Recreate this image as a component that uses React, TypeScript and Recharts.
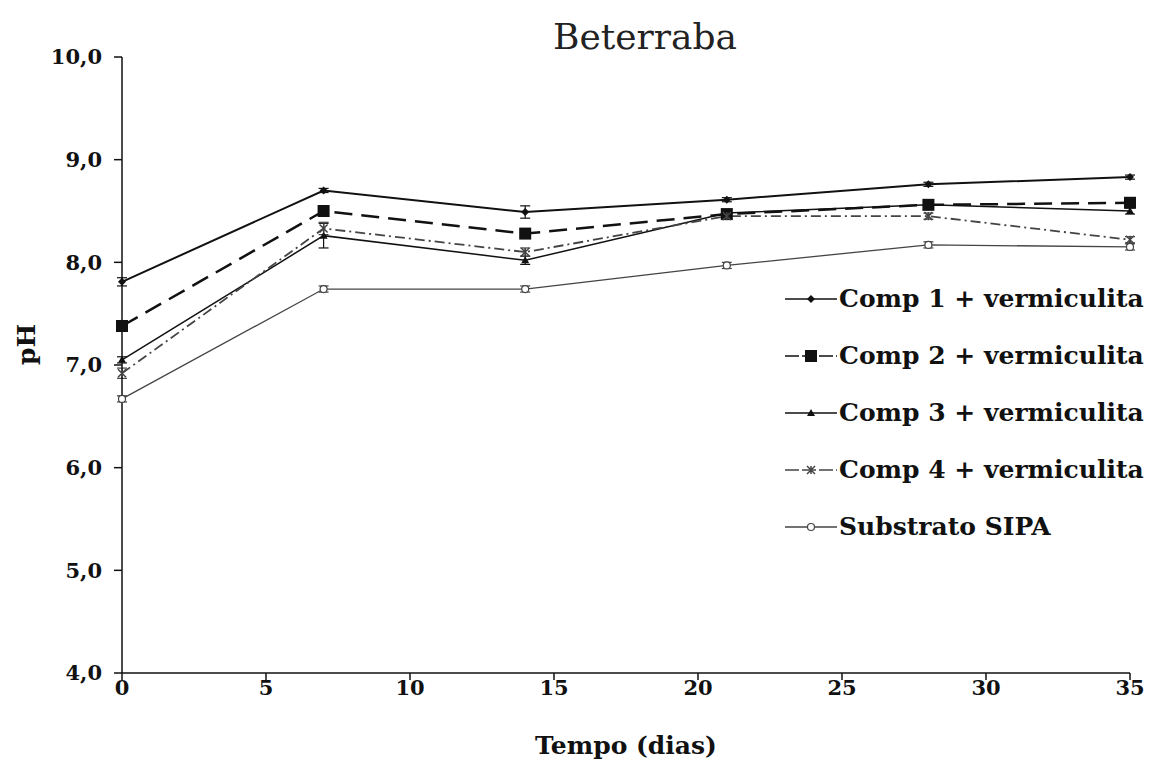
import { ErrorBar, Line, LineChart, XAxis, YAxis } from "recharts";

const days = [0, 7, 14, 21, 28, 35];
const comp1 = [7.81, 8.7, 8.49, 8.61, 8.76, 8.83];
const comp2 = [7.38, 8.5, 8.28, 8.47, 8.56, 8.58];
const comp3 = [7.05, 8.26, 8.02, 8.48, 8.56, 8.5];
const comp4 = [6.92, 8.33, 8.1, 8.45, 8.45, 8.22];
const sipa = [6.67, 7.74, 7.74, 7.97, 8.17, 8.15];
const comp1Err = [0.04, 0.02, 0.06, 0.02, 0.02, 0.02];
const comp3Err = [0.03, 0.12, 0.04, 0.03, 0.03, 0.03];
const comp4Err = [0.05, 0.06, 0.04, 0.03, 0.03, 0.03];
const sipaErr = [0.03, 0.03, 0.03, 0.03, 0.03, 0.03];
const xTicks = [0, 5, 10, 15, 20, 25, 30, 35];
const yTicks = [4, 5, 6, 7, 8, 9, 10];

const rows = days.map((d, i) => ({
  day: d,
  c1: comp1[i],
  c2: comp2[i],
  c3: comp3[i],
  c4: comp4[i],
  sipa: sipa[i],
  c1e: comp1Err[i],
  c3e: comp3Err[i],
  c4e: comp4Err[i],
  se: sipaErr[i],
}));

const serif = "'DejaVu Serif', serif";

type Shape = "diamond" | "square" | "triangle" | "x" | "circle";

function marker(shape: Shape, cx: number, cy: number, color: string) {
  switch (shape) {
    case "diamond":
      return <path d={`M${cx},${cy - 4}L${cx + 4},${cy}L${cx},${cy + 4}L${cx - 4},${cy}Z`} fill={color} />;
    case "square":
      return <rect x={cx - 6} y={cy - 6} width={12} height={12} fill={color} />;
    case "triangle":
      return <path d={`M${cx},${cy - 4}L${cx + 4},${cy + 3}L${cx - 4},${cy + 3}Z`} fill={color} />;
    case "x":
      return (
        <path
          d={`M${cx - 4},${cy - 4}L${cx + 4},${cy + 4}M${cx - 4},${cy + 4}L${cx + 4},${cy - 4}M${cx},${cy - 4}L${cx},${cy + 4}`}
          stroke={color}
          strokeWidth={1.5}
        />
      );
    default:
      return <circle cx={cx} cy={cy} r={3.5} fill="#fff" stroke={color} strokeWidth={1.2} />;
  }
}

const series = [
  { key: "c1", err: "c1e", name: "Comp 1 + vermiculita", color: "#111", width: 2, dash: undefined, shape: "diamond" as Shape },
  { key: "c2", err: undefined, name: "Comp 2 + vermiculita", color: "#111", width: 2.5, dash: "18 9", shape: "square" as Shape },
  { key: "c3", err: "c3e", name: "Comp 3 + vermiculita", color: "#111", width: 1.5, dash: undefined, shape: "triangle" as Shape },
  { key: "c4", err: "c4e", name: "Comp 4 + vermiculita", color: "#444", width: 1.8, dash: "10 4 2 4", shape: "x" as Shape },
  { key: "sipa", err: "se", name: "Substrato SIPA", color: "#444", width: 1.3, dash: undefined, shape: "circle" as Shape },
];

function LegendBox() {
  return (
    <div
      style={{
        position: "absolute",
        left: 785,
        top: 270,
        fontFamily: serif,
        fontWeight: "bold",
        fontSize: 25,
        color: "#111",
        whiteSpace: "nowrap",
      }}
    >
      {series.map((s) => (
        <div key={s.key} style={{ display: "flex", alignItems: "center", height: 57 }}>
          <svg width={52} height={20}>
            <line x1={0} y1={10} x2={52} y2={10} stroke={s.color} strokeWidth={1.5} strokeDasharray={s.dash ? "14 3" : undefined} />
            {marker(s.shape, 26, 10, s.color)}
          </svg>
          <span style={{ marginLeft: 2 }}>{s.name}</span>
        </div>
      ))}
    </div>
  );
}

export default function App() {
  return (
    <div style={{ position: "absolute", left: 0, top: 0, width: 1156, height: 760, background: "#fff" }}>
      <LineChart width={1156} height={760} data={rows} margin={{ top: 57, right: 26, bottom: 57, left: 0 }}>
        <XAxis
          dataKey="day"
          type="number"
          domain={[0, 35]}
          ticks={xTicks}
          tickSize={7}
          stroke="#111"
          strokeWidth={1.5}
          tick={{ fill: "#111", fontFamily: serif, fontWeight: "bold", fontSize: 21 }}
          tickMargin={0}
          label={{ value: "Tempo (dias)", position: "insideBottom", offset: -51, fill: "#111", fontFamily: serif, fontWeight: "bold", fontSize: 25 }}
        />
        <YAxis
          type="number"
          domain={[4, 10]}
          ticks={yTicks}
          width={122}
          tickSize={8}
          stroke="#111"
          strokeWidth={1.5}
          tickFormatter={(v: number) => v.toFixed(1).replace(".", ",")}
          tick={{ fill: "#111", fontFamily: serif, fontWeight: "bold", fontSize: 21 }}
          tickMargin={12}
          label={{ value: "pH", angle: -90, position: "insideLeft", offset: 26, fill: "#111", fontFamily: serif, fontWeight: "bold", fontSize: 25 }}
        />
        {series.map((s) => (
          <Line
            key={s.key}
            type="linear"
            dataKey={s.key}
            name={s.name}
            stroke={s.color}
            strokeWidth={s.width}
            strokeDasharray={s.dash}
            isAnimationActive={false}
            dot={(p: any) => <g key={`${s.key}-${p.index}`}>{marker(s.shape, p.cx, p.cy, s.color)}</g>}
          >
            {s.err && <ErrorBar dataKey={s.err} direction="y" width={5} stroke={s.color} strokeWidth={1.2} />}
          </Line>
        ))}
      </LineChart>
      <div
        style={{
          position: "absolute",
          left: 0,
          width: 1290,
          top: 16,
          textAlign: "center",
          fontFamily: serif,
          fontSize: 36,
          color: "#222",
        }}
      >
        Beterraba
      </div>
      <LegendBox />
    </div>
  );
}
